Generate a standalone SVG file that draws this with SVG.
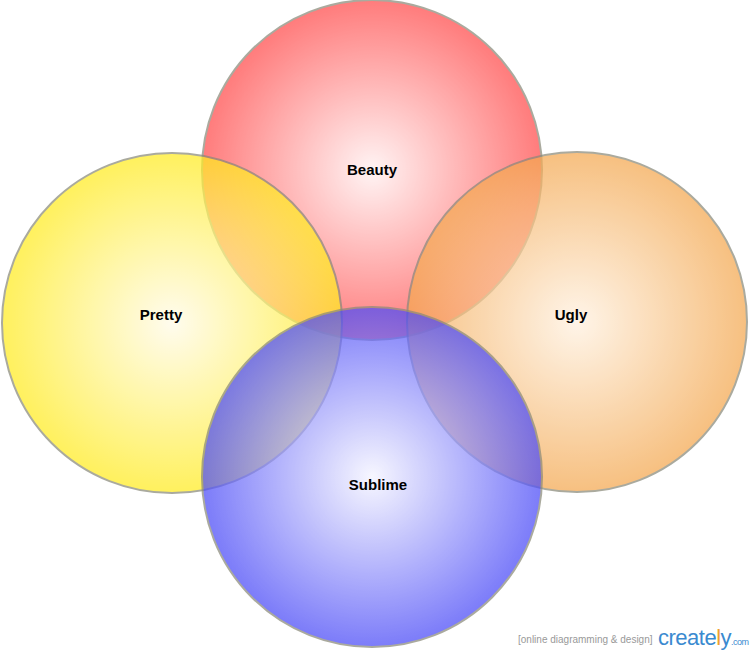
<svg xmlns="http://www.w3.org/2000/svg" width="751" height="652" viewBox="0 0 751 652">
<style>
.c{stroke:#8a8a7a;stroke-width:2;opacity:0.72}
.t{font-family:"Liberation Sans",Arial,sans-serif;font-size:15px;font-weight:bold;fill:#000;text-anchor:middle}
</style>
<defs>
<radialGradient id="gr"><stop offset="0" stop-color="#fff0f0"/><stop offset="1" stop-color="#ff4a4a"/></radialGradient>
<radialGradient id="gy"><stop offset="0" stop-color="#fffbe8"/><stop offset="1" stop-color="#ffec20"/></radialGradient>
<radialGradient id="go"><stop offset="0" stop-color="#fff1e0"/><stop offset="1" stop-color="#f4a850"/></radialGradient>
<radialGradient id="gb"><stop offset="0" stop-color="#f4f4ff"/><stop offset="1" stop-color="#4a4af8"/></radialGradient>
</defs>
<rect width="751" height="652" fill="#fff"/>
<g id="beauty"><circle class="c" cx="372" cy="170" r="170" fill="url(#gr)"/></g>
<g id="ugly"><circle class="c" cx="577" cy="322" r="170" fill="url(#go)"/></g>
<g id="pretty"><circle class="c" cx="172" cy="323" r="170" fill="url(#gy)"/></g>
<g id="sublime"><circle class="c" cx="372" cy="477" r="170" fill="url(#gb)"/></g>
<g id="labels">
<text class="t" x="372" y="175">Beauty</text>
<text class="t" x="161" y="320">Pretty</text>
<text class="t" x="571" y="320">Ugly</text>
<text class="t" x="378" y="490">Sublime</text>
</g>
<g id="connectors"/>
<g id="logo" font-family="'Liberation Sans',Arial,sans-serif">
<text x="518" y="643" font-size="10" fill="#999">[online diagramming &amp; design]</text>
<text x="658" y="645" font-size="22" fill="#3a8ad0" letter-spacing="-0.5">create<tspan fill="#f0a030">l</tspan>y<tspan font-size="9">.com</tspan></text>
</g>
</svg>
